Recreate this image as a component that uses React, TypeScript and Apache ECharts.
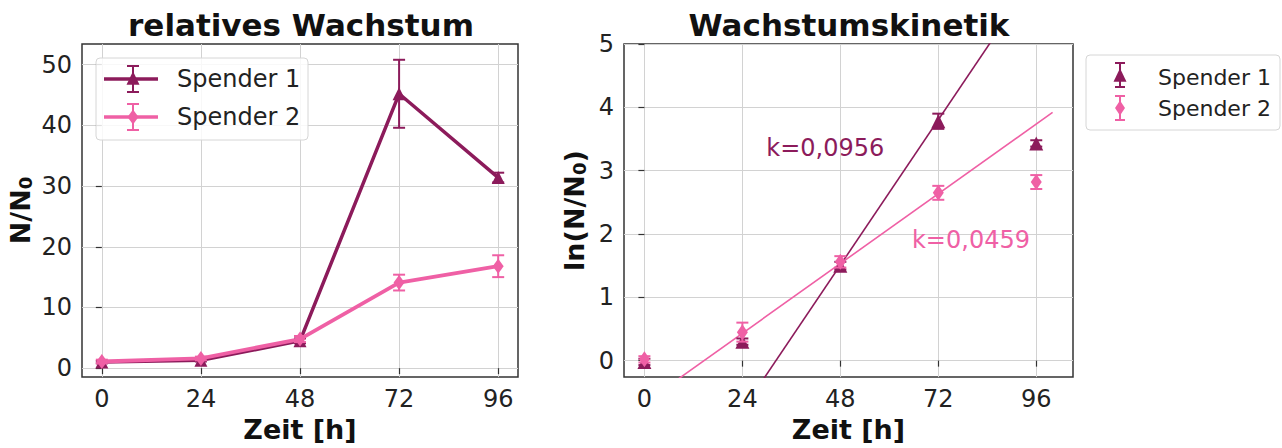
import React, { useEffect, useRef } from 'react';
import * as echarts from 'echarts';

const DARK = '#8c1b5b';
const PINK = '#ef60a5';
const FONT = 'DejaVu Sans';

const hours = [0, 24, 48, 72, 96];
const xTicks = [0, 24, 48, 72, 96];
const relTicks = [0, 10, 20, 30, 40, 50];
const lnTicks = [0, 1, 2, 3, 4, 5];
const seriesNames = ['Spender 1', 'Spender 2'];

const relS1 = [1.0, 1.3, 4.5, 45.2, 31.4];
const relS1Err = [0.2, 0.2, 0.4, 5.6, 0.8];
const relS2 = [1.1, 1.6, 4.8, 14.1, 16.8];
const relS2Err = [0.3, 0.3, 0.5, 1.3, 1.8];

const lnS1 = [-0.02, 0.3, 1.5, 3.78, 3.43];
const lnS1Err = [0.05, 0.05, 0.06, 0.12, 0.05];
const lnS2 = [0.02, 0.45, 1.56, 2.65, 2.82];
const lnS2Err = [0.05, 0.15, 0.09, 0.11, 0.11];

const fitX = [0, 100];
const fitS1 = [-3.08, 6.48];
const fitS2 = [-0.67, 3.92];
const kLabels = ['k=0,0956', 'k=0,0459'];
const kPos = [[44.3, 3.35], [80.0, 1.9]];

function errorBars(xi: number, yi: number, vals: number[], errs: number[], color: string, z: number) {
  return {
    type: 'custom',
    xAxisIndex: xi,
    yAxisIndex: yi,
    z,
    silent: true,
    data: hours.map((h, i) => [h, vals[i] - errs[i], vals[i] + errs[i]]),
    renderItem: (params: any, api: any) => {
      const x = api.value(0);
      const lo = api.coord([x, api.value(1)]);
      const hi = api.coord([x, api.value(2)]);
      const hw = 6;
      const style = { stroke: color, lineWidth: 2 };
      return {
        type: 'group',
        children: [
          { type: 'line', shape: { x1: lo[0], y1: lo[1], x2: hi[0], y2: hi[1] }, style },
          { type: 'line', shape: { x1: lo[0] - hw, y1: lo[1], x2: lo[0] + hw, y2: lo[1] }, style },
          { type: 'line', shape: { x1: hi[0] - hw, y1: hi[1], x2: hi[0] + hw, y2: hi[1] }, style },
        ],
      };
    },
  };
}

function xAxisCfg(gridIndex: number, min: number, max: number) {
  return {
    type: 'value',
    gridIndex,
    min,
    max,
    name: 'Zeit [h]',
    nameLocation: 'middle',
    nameGap: 36,
    nameTextStyle: { fontSize: 27, fontWeight: 'bold', fontFamily: FONT, color: '#111' },
    axisLine: { show: false },
    axisTick: { show: true, customValues: xTicks, length: 6, lineStyle: { color: '#333', width: 1.2 } },
    axisLabel: { customValues: xTicks, fontSize: 24, fontFamily: FONT, color: '#222', margin: 10 },
    splitLine: { show: true, lineStyle: { color: '#d2d2d2', width: 1 } },
  };
}

function yAxisCfg(gridIndex: number, min: number, max: number, ticks: number[], name: string, gap: number) {
  return {
    type: 'value',
    gridIndex,
    min,
    max,
    name,
    nameLocation: 'middle',
    nameGap: gap,
    nameTextStyle: {
      fontSize: 27,
      fontWeight: 'bold',
      fontFamily: FONT,
      color: '#111',
      rich: {
        s: { fontSize: 18, fontWeight: 'bold', fontFamily: FONT, color: '#111', verticalAlign: 'bottom', padding: [10, 0, 0, 0] },
      },
    },
    axisLine: { show: false },
    axisTick: { show: true, customValues: ticks, length: 6, lineStyle: { color: '#333', width: 1.2 } },
    axisLabel: { customValues: ticks, fontSize: 24, fontFamily: FONT, color: '#222', margin: 10 },
    splitLine: { show: true, lineStyle: { color: '#d2d2d2', width: 1 } },
  };
}

function legendGraphic() {
  const txt = (x: number, y: number, text: string, size: number) => ({
    type: 'text',
    x,
    y,
    style: { text, fontSize: size, fontFamily: FONT, fill: '#222', verticalAlign: 'middle', align: 'left' },
  });
  const ebar = (x: number, y1: number, y2: number, color: string, hw: number) => [
    { type: 'line', shape: { x1: x, y1, x2: x, y2 }, style: { stroke: color, lineWidth: 2 } },
    { type: 'line', shape: { x1: x - hw, y1, x2: x + hw, y2: y1 }, style: { stroke: color, lineWidth: 2 } },
    { type: 'line', shape: { x1: x - hw, y1: y2, x2: x + hw, y2 }, style: { stroke: color, lineWidth: 2 } },
  ];
  const tri = (x: number, y: number, s: number, color: string) => ({
    type: 'polygon',
    shape: { points: [[x, y - s * 0.6], [x - s / 2, y + s * 0.45], [x + s / 2, y + s * 0.45]] },
    style: { fill: color },
  });
  const dia = (x: number, y: number, w: number, h: number, color: string) => ({
    type: 'polygon',
    shape: { points: [[x, y - h / 2], [x + w / 2, y], [x, y + h / 2], [x - w / 2, y]] },
    style: { fill: color },
  });
  const withZ = (arr: any[]) => arr.map((e) => ({ ...e, z: 100 }));
  return [
    ...withZ([
      { type: 'rect', shape: { x: 96, y: 58, width: 212, height: 82, r: 4 }, style: { fill: 'rgba(255,255,255,0.85)', stroke: '#d6d6d6', lineWidth: 1 }, z: 90 },
    ]).map((e) => ({ ...e, z: 90 })),
    ...withZ([
      { type: 'line', shape: { x1: 104, y1: 79, x2: 158, y2: 79 }, style: { stroke: DARK, lineWidth: 3.5 } },
      ...ebar(133, 66, 92, DARK, 6),
      tri(133, 79, 13, DARK),
      txt(177, 79, seriesNames[0], 24),
      { type: 'line', shape: { x1: 104, y1: 117, x2: 158, y2: 117 }, style: { stroke: PINK, lineWidth: 3.5 } },
      ...ebar(133, 104, 130, PINK, 6),
      dia(133, 117, 11, 15, PINK),
      txt(177, 117, seriesNames[1], 24),
    ]),
    { type: 'rect', shape: { x: 1086, y: 55, width: 194, height: 75, r: 4 }, style: { fill: '#fff', stroke: '#d6d6d6', lineWidth: 1 }, z: 90 },
    ...withZ([
      ...ebar(1120, 63, 87, DARK, 5),
      tri(1120, 76, 13, DARK),
      txt(1158, 77, seriesNames[0], 22),
      ...ebar(1120, 96, 120, PINK, 5),
      dia(1120, 108, 10, 15, PINK),
      txt(1158, 108, seriesNames[1], 22),
    ]),
  ];
}

export default function App() {
  const ref = useRef<HTMLDivElement>(null);
  useEffect(() => {
    if (!ref.current) return;
    const chart = echarts.init(ref.current, undefined, { renderer: 'svg' });
    const kLabel = (i: number, color: string) => ({
      type: 'scatter', name: 'k' + (i + 1), xAxisIndex: 1, yAxisIndex: 1, z: 7, silent: true,
      data: [kPos[i]], symbolSize: 0, itemStyle: { opacity: 1 },
      label: { show: true, position: 'inside', formatter: kLabels[i], fontSize: 24, fontFamily: FONT, color, opacity: 1 },
    });
    const option: any = {
      animation: false,
      backgroundColor: '#fff',
      title: [
        { text: 'relatives Wachstum', left: 301, top: 9, padding: 0, textAlign: 'center', textStyle: { fontSize: 31, fontWeight: 'bold', fontFamily: FONT, color: '#111' } },
        { text: 'Wachstumskinetik', left: 849, top: 9, padding: 0, textAlign: 'center', textStyle: { fontSize: 31, fontWeight: 'bold', fontFamily: FONT, color: '#111' } },
      ],
      grid: [
        { left: 82, top: 44, width: 436, height: 337, show: true, borderColor: '#333', borderWidth: 1.5, backgroundColor: 'transparent' },
        { left: 624, top: 44, width: 449, height: 337, show: true, borderColor: '#333', borderWidth: 1.5, backgroundColor: 'transparent' },
      ],
      xAxis: [xAxisCfg(0, -4.8, 100.8), xAxisCfg(1, -5, 105)],
      yAxis: [
        yAxisCfg(0, -1.47, 53.4, relTicks, 'N/N{s|0}', 48),
        yAxisCfg(1, -0.26, 5, lnTicks, 'ln(N/N{s|0})', 36),
      ],
      series: [
        errorBars(0, 0, relS1, relS1Err, DARK, 2),
        {
          type: 'line', name: seriesNames[0], xAxisIndex: 0, yAxisIndex: 0, z: 3,
          data: hours.map((h, i) => [h, relS1[i]]),
          symbol: 'triangle', symbolSize: 13,
          itemStyle: { color: DARK }, lineStyle: { color: DARK, width: 3.5 },
        },
        errorBars(0, 0, relS2, relS2Err, PINK, 4),
        {
          type: 'line', name: seriesNames[1], xAxisIndex: 0, yAxisIndex: 0, z: 5,
          data: hours.map((h, i) => [h, relS2[i]]),
          symbol: 'diamond', symbolSize: [11, 15],
          itemStyle: { color: PINK }, lineStyle: { color: PINK, width: 3.8 },
        },
        {
          type: 'line', name: 'Fit 1', xAxisIndex: 1, yAxisIndex: 1, z: 2, clip: true,
          data: fitX.map((x, i) => [x, fitS1[i]]), symbol: 'none',
          lineStyle: { color: DARK, width: 1.6 },
        },
        {
          type: 'line', name: 'Fit 2', xAxisIndex: 1, yAxisIndex: 1, z: 2, clip: true,
          data: fitX.map((x, i) => [x, fitS2[i]]), symbol: 'none',
          lineStyle: { color: PINK, width: 1.6 },
        },
        errorBars(1, 1, lnS1, lnS1Err, DARK, 3),
        {
          type: 'scatter', name: seriesNames[0] + ' ln', xAxisIndex: 1, yAxisIndex: 1, z: 4,
          data: hours.map((h, i) => [h, lnS1[i]]),
          symbol: 'triangle', symbolSize: 14, itemStyle: { color: DARK, opacity: 1 },
        },
        errorBars(1, 1, lnS2, lnS2Err, PINK, 5),
        {
          type: 'scatter', name: seriesNames[1] + ' ln', xAxisIndex: 1, yAxisIndex: 1, z: 6,
          data: hours.map((h, i) => [h, lnS2[i]]),
          symbol: 'diamond', symbolSize: [11, 16], itemStyle: { color: PINK, opacity: 1 },
        },
        kLabel(0, DARK),
        kLabel(1, PINK),
      ],
      graphic: legendGraphic(),
    };
    chart.setOption(option);
    return () => chart.dispose();
  }, []);
  return <div ref={ref} style={{ position: 'fixed', left: 0, top: 0, width: 1282, height: 448 }} />;
}
